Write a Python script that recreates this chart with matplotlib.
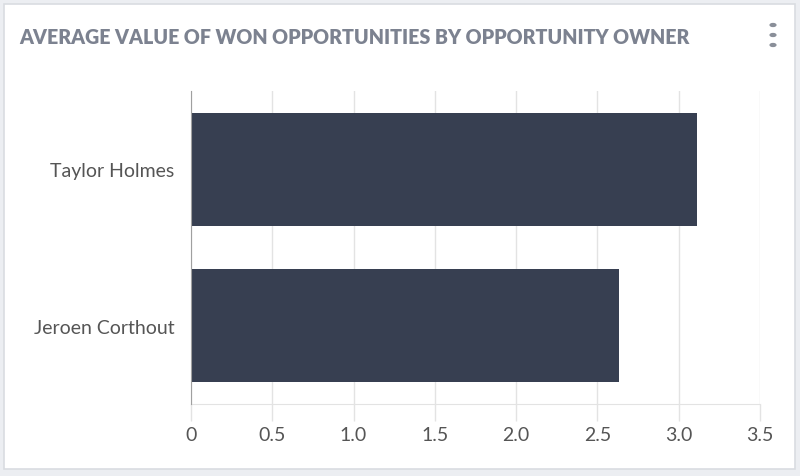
import matplotlib
matplotlib.use("Agg")
import matplotlib.pyplot as plt
from matplotlib.patches import Rectangle, Circle

names = ["Jeroen Corthout", "Taylor Holmes"]
values = [2.63, 3.11]
xticks = [0, 0.5, 1.0, 1.5, 2.0, 2.5, 3.0, 3.5]
xticklabels = ["0", "0.5", "1.0", "1.5", "2.0", "2.5", "3.0", "3.5"]
title = "AVERAGE VALUE OF WON OPPORTUNITIES BY OPPORTUNITY OWNER"

plt.rcParams['font.family'] = ['Lato', 'DejaVu Sans']

W, H = 800, 477
fig = plt.figure(figsize=(8, 4.77), dpi=100)
fig.patch.set_facecolor('#eceef2')

# card
card = Rectangle((4 / W, 1 - 470 / H), 791 / W, 465 / H, transform=fig.transFigure,
                 facecolor='white', edgecolor='#d9dce1', linewidth=1.2, zorder=-5)
fig.patches.append(card)

ax = fig.add_axes([191 / W, 1 - 405 / H, (760 - 191) / W, (405 - 92) / H])
ax.set_zorder(1)
ax.set_facecolor('none')
ax.barh(range(len(names)), values, height=0.72, color='#373f51', zorder=3)
ax.set_xlim(0, 3.5)
ax.set_ylim(-0.5, 1.5)
ax.set_yticks(range(len(names)))
ax.set_yticklabels(names, fontsize=14, color='#555555')
ax.set_xticks(xticks)
ax.set_xticklabels(xticklabels, fontsize=14, color='#555555')
ax.grid(axis='x', color='#e3e3e3', linewidth=1, zorder=0)
ax.tick_params(axis='x', length=12, color='#e3e3e3', width=1, pad=3.5)
ax.tick_params(axis='y', length=0, pad=12)
for s in ['top', 'right']:
    ax.spines[s].set_visible(False)
ax.spines['bottom'].set_color('#e3e3e3')
ax.spines['left'].set_color('#a0a0a0')
ax.spines['left'].set_zorder(4)

fig.text(19 / W, 1 - 37 / H, title, fontsize=14.15, fontweight='heavy', color='#7c8290',
         ha='left', va='center')
for yy in [26, 36, 46]:
    fig.patches.append(Circle((773 / W, 1 - yy / H), 3.6 / W, transform=fig.transFigure,
                              facecolor='#8a8f99', edgecolor='none'))

fig.savefig('out.png', dpi=100, facecolor=fig.get_facecolor())
